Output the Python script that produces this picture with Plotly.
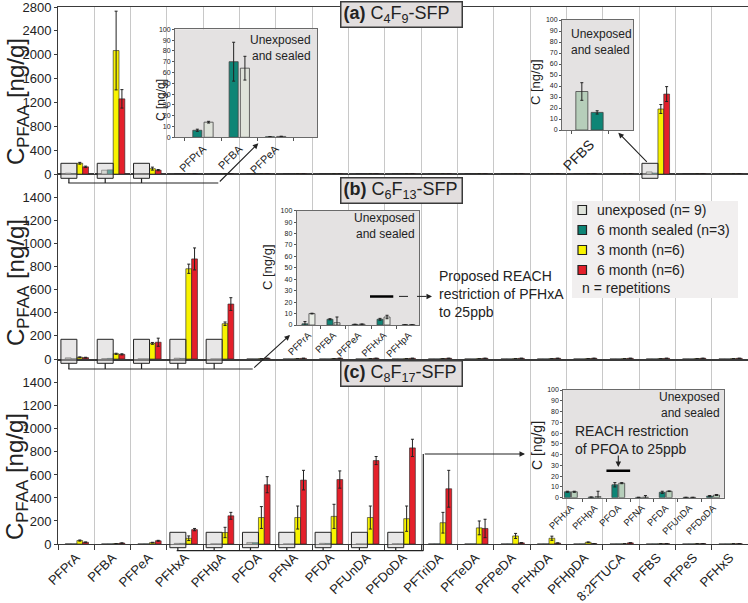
import plotly.graph_objects as go

W, H = 748, 603
FONT = "Arial, Liberation Sans, sans-serif"
INK = "#222222"
FRAME = "#3a3a3a"
GRID = "#c8c8c8"
INSET_BG = "#e4e2e2"
UNEXP = "#dfe3da"
UNEXP_GREEN = "#b6ceba"
SEALED = "#0e8576"
YELLOW = "#f8f300"
RED = "#e4202b"

COMPOUNDS = ["PFPrA", "PFBA", "PFPeA", "PFHxA", "PFHpA", "PFOA", "PFNA", "PFDA",
             "PFUnDA", "PFDoDA", "PFTriDA", "PFTeDA", "PFPeDA", "PFHxDA", "PFHpDA",
             "8:2FTUCA", "PFBS", "PFPeS", "PFHxS"]
SERIES = ["unexposed (n= 9)", "6 month sealed (n=3)", "3 month (n=6)", "6 month (n=6)"]

# (a) C4F9-SFP  [ng/g]
A_UNEXP = [14, 64, 1, 0, 0, 0, 0, 0, 0, 0, 0, 0, 0, 0, 0, 0, 35, 0, 0]
A_SEALED = [6.5, 70, 0.5, 0, 0, 0, 0, 0, 0, 0, 0, 0, 0, 0, 0, 0, 16, 0, 0]
A_3M = [180, 2070, 90, 2, 2, 2, 2, 2, 2, 2, 2, 2, 2, 2, 2, 2, 1090, 2, 2]
A_6M = [120, 1260, 65, 3, 3, 3, 3, 3, 3, 3, 3, 3, 3, 3, 3, 3, 1340, 3, 3]
A_3M_ERR = [15, 660, 25, 0, 0, 0, 0, 0, 0, 0, 0, 0, 0, 0, 0, 0, 75, 0, 0]
A_6M_ERR = [12, 155, 10, 0, 0, 0, 0, 0, 0, 0, 0, 0, 0, 0, 0, 0, 125, 0, 0]

# (b) C6F13-SFP
B_UNEXP = [10, 2, 0.7, 7, 0.3, 1, 1, 1, 1, 1, 1, 1, 1, 1, 1, 1, 1, 1, 1]
B_SEALED = [1, 5, 0.5, 5, 0.2, 0.5, 0.5, 0.5, 0.5, 0.5, 0.5, 0.5, 0.5, 0.5, 0.5, 0.5, 0.5, 0.5, 0.5]
B_3M = [15, 45, 135, 780, 305, 3, 3, 3, 3, 3, 3, 3, 3, 3, 3, 3, 3, 3, 3]
B_6M = [12, 40, 145, 865, 475, 6, 6, 6, 6, 6, 6, 6, 6, 6, 6, 6, 6, 6, 6]
B_3M_ERR = [3, 5, 8, 40, 15, 0, 0, 0, 0, 0, 0, 0, 0, 0, 0, 0, 0, 0, 0]
B_6M_ERR = [3, 5, 35, 95, 55, 0, 0, 0, 0, 0, 0, 0, 0, 0, 0, 0, 0, 0, 0]

# (c) C8F17-SFP
C_UNEXP = [2, 1, 1, 5.5, 1, 13.5, 0.5, 6, 0.3, 2.5, 1, 1, 1, 1, 1, 1, 1, 1, 1]
C_SEALED = [1, 1, 1, 5.5, 0.5, 12, 0.3, 5, 0.3, 1.5, 1, 1, 1, 1, 1, 1, 1, 1, 1]
C_3M = [30, 3, 12, 50, 100, 230, 230, 240, 230, 220, 185, 140, 70, 50, 15, 2, 2, 2, 2]
C_6M = [15, 8, 28, 125, 245, 515, 555, 560, 725, 835, 480, 135, 10, 8, 3, 10, 3, 3, 3]
C_3M_ERR = [5, 1, 3, 20, 45, 95, 100, 105, 100, 110, 90, 60, 22, 18, 3, 0, 0, 0, 0]
C_6M_ERR = [3, 2, 4, 10, 30, 70, 85, 75, 35, 75, 160, 80, 3, 2, 1, 2, 0, 0, 0]

# insets: unexposed and sealed only, 0-100 ng/g
IN_A1_CATS = ["PFPrA", "PFBA", "PFPeA"]
IN_A1_SEALED = [6.5, 70, 0.5]
IN_A1_SEALED_ERR = [1, 18, 0.2]
IN_A1_UNEXP = [14, 64, 0.8]
IN_A1_UNEXP_ERR = [0.8, 11, 0.2]

IN_A2_CATS = ["PFBS"]
IN_A2_UNEXP = [35]
IN_A2_UNEXP_ERR = [8]
IN_A2_SEALED = [16]
IN_A2_SEALED_ERR = [1.5]

IN_B_CATS = ["PFPrA", "PFBA", "PFPeA", "PFHxA", "PFHpA"]
IN_B_SEALED = [1, 5, 0.5, 5, 0.2]
IN_B_SEALED_ERR = [2, 0.5, 0.2, 0.8, 0]
IN_B_UNEXP = [10, 2, 0.7, 7, 0.2]
IN_B_UNEXP_ERR = [0.3, 5, 0.2, 1.5, 0]

IN_C_CATS = ["PFHxA", "PFHpA", "PFOA", "PFNA", "PFDA", "PFUnDA", "PFDoDA"]
IN_C_SEALED = [5.5, 0.5, 12, 0.3, 5, 0.3, 1.5]
IN_C_SEALED_ERR = [0.5, 0.2, 2, 0.1, 1, 0.1, 0.5]
IN_C_UNEXP = [5.5, 1, 13.5, 0.5, 6, 0.3, 2.5]
IN_C_UNEXP_ERR = [0.5, 5, 0.5, 1.5, 0.3, 0.1, 0.4]

REACH_LIMIT = 25


def X(p):
    return p / W


def Y(p):
    return 1 - p / H


def nz(vals):
    return None if vals is None else [v if v else None for v in vals]


def errbar(vals):
    return dict(type="data", array=nz(vals), color=INK, thickness=1, width=1.5,
                visible=vals is not None)


fig = go.Figure()

colors = [UNEXP, SEALED, YELLOW, RED]
offsets = [-0.30, -0.14, 0.02, 0.18]
panels = [
    ("3", [A_UNEXP, A_SEALED, A_3M, A_6M], [None, None, A_3M_ERR, A_6M_ERR]),
    ("2", [B_UNEXP, B_SEALED, B_3M, B_6M], [None, None, B_3M_ERR, B_6M_ERR]),
    ("", [C_UNEXP, C_SEALED, C_3M, C_6M], [None, None, C_3M_ERR, C_6M_ERR]),
]
for ax, series, errs in panels:
    for name, vals, e, col, off in zip(SERIES, series, errs, colors, offsets):
        fig.add_bar(x=COMPOUNDS, y=vals, name=name, showlegend=False,
                    offset=off, width=0.16,
                    marker=dict(color=col, line=dict(color=INK, width=0.6)),
                    error_y=errbar(e), xaxis="x" + ax, yaxis="y" + ax)


def inset(ax, cats, bars, width):
    for vals, e, col, off in bars:
        fig.add_bar(x=cats, y=vals, showlegend=False, offset=off, width=width,
                    marker=dict(color=col, line=dict(color="#444", width=0.8)),
                    error_y=errbar(e), xaxis="x" + ax, yaxis="y" + ax)


inset("4", IN_A1_CATS, [(IN_A1_SEALED, IN_A1_SEALED_ERR, SEALED, -0.28),
                        (IN_A1_UNEXP, IN_A1_UNEXP_ERR, UNEXP, 0.03)], 0.25)
inset("5", IN_A2_CATS, [(IN_A2_UNEXP, IN_A2_UNEXP_ERR, UNEXP_GREEN, -0.39),
                        (IN_A2_SEALED, IN_A2_SEALED_ERR, SEALED, 0.03)], 0.33)
inset("6", IN_B_CATS, [(IN_B_SEALED, IN_B_SEALED_ERR, SEALED, -0.26),
                       (IN_B_UNEXP, IN_B_UNEXP_ERR, "#e9ede6", 0.02)], 0.24)
inset("7", IN_C_CATS, [(IN_C_SEALED, IN_C_SEALED_ERR, SEALED, -0.27),
                       (IN_C_UNEXP, IN_C_UNEXP_ERR, UNEXP_GREEN, 0.02)], 0.25)

# ---- axes ----
main_x = dict(type="category", categoryorder="array", categoryarray=COMPOUNDS,
              domain=[X(58), 1], range=[-0.5, 18.5], tickson="boundaries",
              showgrid=True, gridcolor=GRID, gridwidth=1, showline=True,
              linecolor=FRAME, linewidth=1, mirror=True, zeroline=False,
              automargin=False)
main_y = dict(showgrid=False, zeroline=False, showline=True, linecolor=FRAME,
              linewidth=1, mirror=True, ticks="outside", ticklen=3, tickcolor=FRAME,
              tickfont=dict(size=13, color=INK), automargin=False,
              ticklabeloverflow="allow")

layout_axes = dict(
    xaxis=dict(main_x, anchor="y", ticks="outside", ticklen=5, tickcolor=FRAME,
               tickangle=-45, tickfont=dict(size=13, color=INK)),
    xaxis2=dict(main_x, anchor="y2", matches="x", showticklabels=False, ticks=""),
    xaxis3=dict(main_x, anchor="y3", matches="x", showticklabels=False, ticks=""),
    yaxis=dict(main_y, anchor="x", domain=[Y(544), Y(361)], range=[0, 1590], dtick=200),
    yaxis2=dict(main_y, anchor="x2", domain=[Y(359), Y(174)], range=[0, 1599], dtick=200),
    yaxis3=dict(main_y, anchor="x3", domain=[Y(174), Y(7)], range=[0, 2800], dtick=400),
)

inset_specs = [
    ("4", IN_A1_CATS, (175, 317), (29.3, 137.3), [-0.77, 3.14], 11),
    ("5", IN_A2_CATS, (562, 633), (20, 130), [-0.77, 1.18], 14),
    ("6", IN_B_CATS, (296.7, 419.3), (210.7, 325), [-0.47, 4.43], 9.5),
    ("7", IN_C_CATS, (563.3, 724), (390, 497.7), [-0.32, 6.46], 9.5),
]
for ax, cats, (x0, x1), (y0, y1), rng, fs in inset_specs:
    layout_axes["xaxis" + ax] = dict(
        type="category", categoryorder="array", categoryarray=cats, anchor="y" + ax,
        domain=[X(x0), X(x1)], range=rng, tickson="boundaries", ticks="outside",
        ticklen=3, tickcolor="#555", tickangle=-45, tickfont=dict(size=fs, color=INK),
        showgrid=False, showline=True, linecolor="#6a6a6a", mirror=True, zeroline=False,
        automargin=False)
    layout_axes["yaxis" + ax] = dict(
        anchor="x" + ax, domain=[Y(y1), Y(y0)], range=[0, 100], dtick=10,
        ticks="outside", ticklen=2, tickcolor="#555", tickfont=dict(size=7, color=INK),
        showgrid=False, showline=True, linecolor="#6a6a6a", mirror=True, zeroline=False,
        automargin=False)

# ---- shapes ----
shapes = [
    # white plotting area for the main panels (insets keep the grey background)
    dict(type="rect", xref="paper", yref="paper", x0=X(58), x1=1, y0=Y(548), y1=1,
         fillcolor="white", line=dict(width=0), layer="below"),
    # legend panel
    dict(type="rect", xref="paper", yref="paper", x0=X(572), x1=X(738), y0=Y(298),
         y1=Y(201), fillcolor="#f1efef", line=dict(width=0), layer="above"),
]


def seg(x0, y0, x1, y1, dash="solid", width=1.2):
    return dict(type="line", xref="paper", yref="paper", x0=X(x0), y0=Y(y0),
                x1=X(x1), y1=Y(y1), line=dict(color=INK, width=width, dash=dash))


zoom_boxes = [
    (IN_A1_CATS, (163.3, 178.3), 183),
    (IN_A2_CATS, (163.3, 178.3), None),
    (IN_B_CATS, (339.3, 363.3), 369),
    (IN_C_CATS, (532.3, 547.7), 550.7),
]
for cats, (top, bot), bracket in zoom_boxes:
    for c in cats:
        i = COMPOUNDS.index(c)
        shapes.append(dict(type="rect", xref="x", yref="paper", x0=i - 0.42, x1=i + 0.02,
                           y0=Y(bot), y1=Y(top), fillcolor="rgba(205,202,202,0.45)",
                           line=dict(color=INK, width=1), layer="above"))
        if bracket:
            shapes.append(dict(type="line", xref="x", yref="paper", x0=i - 0.2, x1=i - 0.2,
                               y0=Y(bot), y1=Y(bracket), line=dict(color=INK, width=1.2)))

shapes += [
    seg(68.3, 183, 218.3, 183),
    seg(68.3, 369, 252.7, 369),
    seg(176.7, 550.7, 423.3, 550.7),
    seg(423.3, 550.7, 423.3, 454),
    seg(399, 296.4, 428, 296.4, dash="dash", width=1),
    # REACH limits inside the insets
    dict(type="line", xref="x6", yref="y6", x0=2.46, x1=3.39, y0=REACH_LIMIT,
         y1=REACH_LIMIT, line=dict(color="black", width=2.5)),
    dict(type="line", xref="x7", yref="y7", x0=1.5, x1=2.5, y0=REACH_LIMIT,
         y1=REACH_LIMIT, line=dict(color="black", width=2.5)),
]


# ---- annotations ----
def arrow(head, tail):
    return dict(x=X(head[0]), y=Y(head[1]), xref="paper", yref="paper", text="",
                ax=tail[0] - head[0], ay=tail[1] - head[1], showarrow=True,
                arrowhead=2, arrowsize=1, arrowwidth=1.1, arrowcolor=INK, standoff=0)


def label(x, y, text, size, xanchor="center", align="center", angle=0):
    return dict(x=X(x), y=Y(y), xref="paper", yref="paper", text=text, showarrow=False,
                font=dict(size=size, color=INK), xanchor=xanchor, yanchor="middle",
                align=align, textangle=angle)


def title_box(y, text):
    return dict(x=X(401), y=Y(y), xref="paper", yref="paper", text=text, showarrow=False,
                font=dict(size=18, color=INK), bgcolor="#e2dede", bordercolor=FRAME,
                borderwidth=1.5, borderpad=2, width=116, height=20, align="left",
                xanchor="center", yanchor="middle")


ytitle = "C<sub>PFAA</sub> [ng/g]"
annotations = [
    title_box(14, "<b>(a)</b> C<sub>4</sub>F<sub>9</sub>-SFP"),
    title_box(190, "<b>(b)</b> C<sub>6</sub>F<sub>13</sub>-SFP"),
    title_box(373, "<b>(c)</b> C<sub>8</sub>F<sub>17</sub>-SFP"),
    label(17, 102, ytitle, 24, angle=-90),
    label(17, 283, ytitle, 24, angle=-90),
    label(17, 477, ytitle, 24, angle=-90),
    label(161, 100, "C [ng/g]", 12, angle=-90),
    label(535, 82, "C [ng/g]", 13, angle=-90),
    label(267, 267, "C [ng/g]", 13, angle=-90),
    label(537, 446, "C [ng/g]", 14, angle=-90),
    label(313, 48, "Unexposed<br>and sealed", 12, xanchor="right", align="right"),
    label(569, 42, "Unexposed<br>and sealed", 12, xanchor="left", align="left"),
    label(417, 226, "Unexposed<br>and sealed", 12, xanchor="right", align="right"),
    label(722, 405, "Unexposed<br>and sealed", 12, xanchor="right", align="right"),
    label(437, 294, "Proposed REACH<br>restriction of PFHxA<br>to 25ppb", 14,
          xanchor="left", align="left"),
    label(632, 440, "REACH restriction<br>of PFOA to 25ppb", 14, xanchor="center",
          align="left"),
    arrow((258.3, 143.3), (218.3, 183)),
    arrow((618.3, 132.7), (648.3, 163.3)),
    arrow((290, 335), (252.7, 369)),
    arrow((525, 454), (423.3, 454)),
    arrow((432, 296.4), (425, 296.4)),
    arrow((618.3, 467), (618.3, 454)),
]

# legend, drawn by hand so the rows keep the tight spacing of the original
for k, (name, col) in enumerate(zip(SERIES, colors)):
    yc = 210 + 20 * k
    shapes.append(dict(type="rect", xref="paper", yref="paper", x0=X(578), x1=X(586.5),
                       y0=Y(yc + 4.5), y1=Y(yc - 4.5), fillcolor=col,
                       line=dict(color=INK, width=1.2), layer="above"))
    annotations.append(label(595, yc, name, 14, xanchor="left", align="left"))
annotations.append(label(580, 288, "n = repetitions", 14, xanchor="left", align="left"))

fig.update_layout(
    width=W, height=H, autosize=False,
    margin=dict(l=0, r=0, t=0, b=0, autoexpand=False),
    paper_bgcolor="white", plot_bgcolor=INSET_BG,
    font=dict(family=FONT, size=13, color=INK),
    barmode="overlay", showlegend=False,
    shapes=shapes, annotations=annotations,
    **layout_axes,
)

fig.write_html("out.html", config={"displayModeBar": False},
               post_script="document.body.style.margin = '0';")
